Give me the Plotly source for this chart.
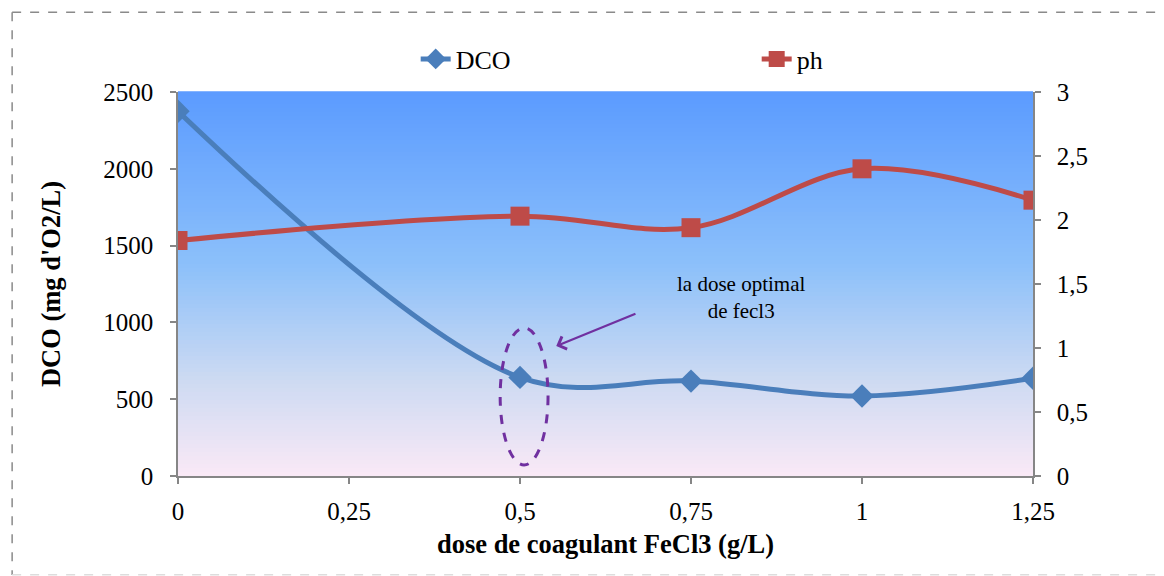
import plotly.graph_objects as go

# ---- data ----
dose = [0, 0.5, 0.75, 1, 1.25]
dco = [2375, 642, 618, 521, 636]
ph = [1.84, 2.03, 1.94, 2.40, 2.155]

x_ticks = [0, 0.25, 0.5, 0.75, 1, 1.25]
x_ticktext = ["0", "0,25", "0,5", "0,75", "1", "1,25"]
y_ticks = [0, 500, 1000, 1500, 2000, 2500]
y_ticktext = ["0", "500", "1000", "1500", "2000", "2500"]
y2_ticks = [0, 0.5, 1, 1.5, 2, 2.5, 3]
y2_ticktext = ["0", "0,5", "1", "1,5", "2", "2,5", "3"]

FONT = "Liberation Serif"
BLUE = "#4A7EBB"
RED = "#BE4B48"
PURPLE = "#7030A0"
AXIS = "#868686"
TS = 25
TT = 26.5

fig = go.Figure()
fig.add_trace(go.Scatter(
    x=dose, y=dco, name="DCO", mode="lines+markers",
    line=dict(color=BLUE, width=5, shape="spline", smoothing=1.0),
    marker=dict(symbol="diamond", size=18, color=BLUE),
    yaxis="y"))
fig.add_trace(go.Scatter(
    x=dose, y=ph, name="ph", mode="lines+markers",
    line=dict(color=RED, width=5, shape="spline", smoothing=1.0),
    marker=dict(symbol="square", size=19, color=RED),
    yaxis="y2"))

# gradient background bands
def lerp(c1, c2, t):
    return tuple(round(a + (b - a) * t) for a, b in zip(c1, c2))

stops = [(0.0, (250, 233, 246)), (0.25, (205, 218, 242)), (0.55, (140, 192, 250)), (1.0, (91, 155, 255))]
def color_at(t):
    for (t0, c0), (t1, c1) in zip(stops[:-1], stops[1:]):
        if t0 <= t <= t1:
            return lerp(c0, c1, (t - t0) / (t1 - t0))
    return stops[-1][1]

shapes = []
N = 96
for i in range(N):
    t0 = i / N
    t1 = (i + 1) / N
    c = color_at((t0 + t1) / 2)
    shapes.append(dict(type="rect", xref="x domain", yref="y domain",
                       x0=0, x1=1, y0=t0, y1=t1 + 0.002, layer="below",
                       line=dict(width=0), fillcolor="rgb(%d,%d,%d)" % c))

# dashed ellipse around optimal dose
shapes.append(dict(type="circle", xref="x", yref="y", x0=0.471, x1=0.541, y0=72, y1=964,
                   line=dict(color=PURPLE, width=3, dash="dash")))

# page border
shapes.append(dict(type="line", xref="paper", yref="paper", x0=-0.194, x1=1.2, y0=1.208, y1=1.208,
                   line=dict(color="#8a8a8a", width=1.5, dash="dash")))
shapes.append(dict(type="line", xref="paper", yref="paper", x0=-0.194, x1=-0.194, y0=1.208, y1=-0.258,
                   line=dict(color="#8a8a8a", width=1.5, dash="dash")))
shapes.append(dict(type="line", xref="paper", yref="paper", x0=-0.194, x1=1.2, y0=-0.257, y1=-0.257,
                   line=dict(color="#dddddd", width=1.5, dash="dash")))

fig.update_layout(
    width=1164, height=576,
    margin=dict(l=178, r=131, t=92, b=100),
    paper_bgcolor="white", plot_bgcolor="white",
    font=dict(family=FONT, size=TS, color="black"),
    shapes=shapes,
    showlegend=True,
    legend=dict(orientation="h", x=0.278, y=1.086, xanchor="left", yanchor="middle",
                font=dict(family=FONT, size=26), entrywidth=296, entrywidthmode="pixels",
                bgcolor="rgba(0,0,0,0)"),
    xaxis=dict(range=[0, 1.25], tickvals=x_ticks, ticktext=x_ticktext,
               showgrid=False, zeroline=False, showline=True, linecolor=AXIS, linewidth=1.5,
               ticks="outside", ticklen=6, tickcolor=AXIS, tickwidth=1.5,
               tickfont=dict(size=TS), ticklabelstandoff=6,
               title=dict(text="<b>dose de coagulant FeCl3 (g/L)</b>", font=dict(size=TT), standoff=11)),
    yaxis=dict(range=[0, 2500], tickvals=y_ticks, ticktext=y_ticktext,
               showgrid=False, zeroline=False, showline=True, linecolor=AXIS, linewidth=1.5,
               ticks="outside", ticklen=6, tickcolor=AXIS, tickwidth=1.5,
               tickfont=dict(size=TS), ticklabelstandoff=12,
               title=dict(text="<b>DCO (mg d'O2/L)</b>", font=dict(size=TT), standoff=35)),
    yaxis2=dict(range=[0, 3], tickvals=y2_ticks, ticktext=y2_ticktext, overlaying="y", side="right",
                showgrid=False, zeroline=False, showline=True, linecolor=AXIS, linewidth=1.5,
                ticks="outside", ticklen=6, tickcolor=AXIS, tickwidth=1.5,
                tickfont=dict(size=TS), ticklabelstandoff=11),
    annotations=[
        dict(x=0.823, y=1160, xref="x", yref="y", text="la dose optimal<br>de fecl3",
             showarrow=False, font=dict(family=FONT, size=21)),
        dict(x=0.553, y=846, ax=0.671, ay=1061, xref="x", yref="y", axref="x", ayref="y",
             text="", showarrow=True, arrowhead=4, arrowsize=1.2, arrowwidth=2.2, arrowcolor=PURPLE),
    ],
)

fig.write_html("out.html")
